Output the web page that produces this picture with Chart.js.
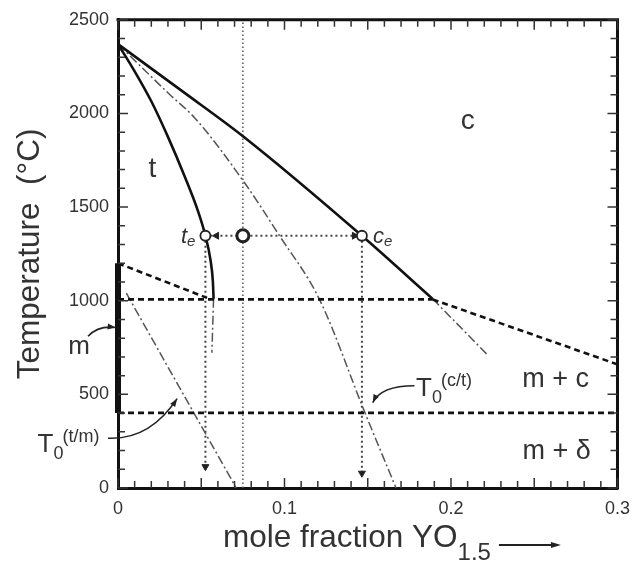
<!DOCTYPE html>
<html>
<head>
<meta charset="utf-8">
<script src="https://cdn.jsdelivr.net/npm/chart.js@4.4.1/dist/chart.umd.min.js"></script>
<style>
  html, body { margin: 0; padding: 0; background: #fff; }
  #wrap { width: 640px; height: 567px; }
</style>
</head>
<body>
<div id="wrap"><canvas id="phase" width="640" height="567"></canvas></div>
<script>
// axis label values
const xLabelValues = [0, 0.1, 0.2, 0.3];
const yLabelValues = [0, 500, 1000, 1500, 2000, 2500];

// t / (t + c) boundary (solid)
const tPhaseX = [0, 0.01, 0.02, 0.03, 0.04, 0.048, 0.0525, 0.0555, 0.057, 0.0574];
const tPhaseT = [2370, 2225, 2065, 1875, 1665, 1480, 1347, 1220, 1100, 1010];
// c / (t + c) boundary (solid)
const cPhaseX = [0, 0.04, 0.076, 0.1465, 0.189];
const cPhaseT = [2370, 2110, 1872, 1347, 1010];
// metastable extensions (dash-dot)
const tMetaX = [0.0574, 0.0564];
const tMetaT = [1010, 722];
const cMetaX = [0.189, 0.2217];
const cMetaT = [1010, 713];
// T0 curves (dash-dot)
const t0ctX = [0, 0.0306, 0.0465, 0.076, 0.097, 0.121, 0.1484, 0.167];
const t0ctT = [2370, 2105, 1972, 1630, 1347, 1007, 400, 0];
const t0tmX = [0.005, 0.071];
const t0tmT = [1040, 0];
// dashed phase lines
const tmBoundX = [0, 0.0535];
const tmBoundT = [1200, 1015];
const eutectoidX = [0, 0.189];
const eutectoidT = [1007, 1007];
const cmBoundX = [0.189, 0.3];
const cmBoundT = [1007, 660];
const lowLineX = [0, 0.3];
const lowLineT = [401, 401];
// m field along the axis
const mFieldX = [0, 0];
const mFieldT = [400, 1200];
// dotted construction lines
const compX = [0.075, 0.075];
const compT = [0, 2500];
const tieX = [0.0525, 0.1465];
const tieT = [1347, 1347];
const teDropX = [0.0525, 0.0525];
const teDropT = [1347, 120];
const ceDropX = [0.1465, 0.1465];
const ceDropT = [1347, 85];
// marked points: te, alloy, ce
const markX = [0.0525, 0.075, 0.1465];
const markT = [1347, 1347, 1347];
// arrow heads on the dotted lines
const headX = [0.0525, 0.1465, 0.0592, 0.142];
const headT = [114, 79, 1347, 1347];
const headRot = [180, 180, 270, 90];

const pts = (xs, ys) => xs.map((x, i) => ({ x: x, y: ys[i] }));

const INK = '#111';
const GREY = '#555';
const TXT = '#333';
const FONT = '"Liberation Sans", Arial, sans-serif';

function line(xs, ys, style) {
    return Object.assign({
        data: pts(xs, ys),
        showLine: true,
        pointRadius: 0,
        borderColor: INK,
        borderWidth: 2.5,
        fill: false
    }, style);
}

const solid = { borderWidth: 2.6, cubicInterpolationMode: 'monotone' };
const dashed = { borderWidth: 2.6, borderDash: [6, 4] };
const dashDot = { borderWidth: 1.5, borderColor: GREY, borderDash: [9, 3, 2, 3], cubicInterpolationMode: 'monotone' };
const dotted = { borderWidth: 2, borderColor: '#444', borderDash: [2, 3] };

function txt(ctx, s, x, y, size, opts) {
    opts = opts || {};
    ctx.save();
    ctx.font = (opts.italic ? 'italic ' : '') + size + 'px ' + FONT;
    ctx.fillStyle = opts.color || TXT;
    ctx.textAlign = opts.align || 'left';
    ctx.textBaseline = opts.baseline || 'alphabetic';
    ctx.translate(x, y);
    if (opts.rot) ctx.rotate(opts.rot);
    ctx.scale(1, opts.sy || 1);
    ctx.fillText(s, 0, 0);
    const w = ctx.measureText(s).width;
    ctx.restore();
    return w;
}

function arrowHead(ctx, x, y, ang, len, wid) {
    ctx.save();
    ctx.translate(x, y);
    ctx.rotate(ang);
    ctx.beginPath();
    ctx.moveTo(0, 0);
    ctx.lineTo(-len, -wid / 2);
    ctx.lineTo(-len, wid / 2);
    ctx.closePath();
    ctx.fill();
    ctx.restore();
}

function curvedArrow(ctx, p0, p1, p2) {
    ctx.beginPath();
    ctx.moveTo(p0[0], p0[1]);
    ctx.quadraticCurveTo(p1[0], p1[1], p2[0], p2[1]);
    ctx.stroke();
    arrowHead(ctx, p2[0], p2[1], Math.atan2(p2[1] - p1[1], p2[0] - p1[0]), 8, 6);
}

const overlay = {
    id: 'overlay',
    afterDatasetsDraw(chart) {
        const ctx = chart.ctx;
        const xs = chart.scales.x, ys = chart.scales.y;
        const a = chart.chartArea;
        const X = v => xs.getPixelForValue(v);
        const Y = v => ys.getPixelForValue(v);

        // frame top and right
        ctx.save();
        ctx.strokeStyle = INK;
        ctx.lineWidth = 3;
        ctx.beginPath();
        ctx.moveTo(a.left - 1.5, a.top);
        ctx.lineTo(a.right, a.top);
        ctx.lineTo(a.right, a.bottom + 1.5);
        ctx.stroke();

        // inward ticks
        ctx.lineWidth = 1.5;
        ctx.strokeStyle = '#333';
        ctx.beginPath();
        for (let i = 0; i <= 30; i++) {
            const px = X(i / 100);
            const L = i % 5 === 0 ? 10 : 7;
            ctx.moveTo(px, a.bottom); ctx.lineTo(px, a.bottom - L);
            ctx.moveTo(px, a.top); ctx.lineTo(px, a.top + L);
        }
        for (let i = 0; i <= 25; i++) {
            const py = Y(i * 100);
            const L = i % 5 === 0 ? 10 : 7;
            ctx.moveTo(a.left, py); ctx.lineTo(a.left + L, py);
            ctx.moveTo(a.right, py); ctx.lineTo(a.right - L, py);
        }
        ctx.stroke();
        ctx.restore();

        // region labels
        txt(ctx, 't', X(0.0206), Y(1703), 28, { align: 'center', baseline: 'middle' });
        txt(ctx, 'c', X(0.21), Y(1957), 28, { align: 'center', baseline: 'middle' });
        txt(ctx, 'm + c', X(0.2628), Y(577), 27, { align: 'center', baseline: 'middle' });
        txt(ctx, 'm + \u03b4', X(0.2634), Y(192), 27, { align: 'center', baseline: 'middle' });
        txt(ctx, 'm', X(-0.0234), Y(752), 26, { align: 'center', baseline: 'middle' });

        // te and ce labels
        ctx.save();
        ctx.font = 'italic 15px ' + FONT;
        const we = ctx.measureText('e').width;
        ctx.font = 'italic 22px ' + FONT;
        const wt = ctx.measureText('t').width;
        ctx.restore();
        const teR = X(0.0525) - 10;
        txt(ctx, 't', teR - we - wt, Y(1347) + 7, 22, { italic: true });
        txt(ctx, 'e', teR - we, Y(1347) + 10, 15, { italic: true });
        const ceL = X(0.1465) + 11;
        const wc = txt(ctx, 'c', ceL, Y(1347) + 7, 22, { italic: true });
        txt(ctx, 'e', ceL + wc, Y(1347) + 10, 15, { italic: true });

        // T0 labels
        function t0(x0, base, sup) {
            const w1 = txt(ctx, 'T', x0, base, 26);
            const w2 = txt(ctx, '0', x0 + w1, base + 7, 18);
            txt(ctx, sup, x0 + w1 + w2 - 1, base - 10, 18);
        }
        t0(X(-0.0483), Y(192), '(t/m)');
        t0(X(0.179), Y(493), '(c/t)');

        // annotation arrows
        ctx.save();
        ctx.strokeStyle = '#222';
        ctx.fillStyle = '#222';
        ctx.lineWidth = 1.6;
        curvedArrow(ctx, [X(-0.018), Y(810)], [X(-0.012), Y(868)], [X(-0.0014), Y(857)]);
        curvedArrow(ctx, [X(-0.006), Y(266)], [X(0.019), Y(255)], [X(0.0355), Y(477)]);
        curvedArrow(ctx, [X(0.178), Y(546)], [X(0.158), Y(546)], [X(0.153), Y(456)]);
        ctx.restore();

        // axis titles
        txt(ctx, 'Temperature  (\u00b0C)', 30, Y(1250), 31.5, { align: 'center', baseline: 'middle', rot: -Math.PI / 2 });
        const tx = 223, tb = 547;
        const w = txt(ctx, 'mole fraction YO', tx, tb, 31.5);
        const ws = txt(ctx, '1.5', tx + w, tb + 13, 24);
        ctx.save();
        ctx.strokeStyle = '#222';
        ctx.fillStyle = '#222';
        ctx.lineWidth = 2;
        const ax0 = tx + w + ws + 8, ax1 = ax0 + 62, ay = tb - 2;
        ctx.beginPath();
        ctx.moveTo(ax0, ay); ctx.lineTo(ax1 - 6, ay);
        ctx.stroke();
        arrowHead(ctx, ax1, ay, 0, 10, 6);
        ctx.restore();
    }
};

new Chart(document.getElementById('phase'), {
    type: 'scatter',
    data: {
        datasets: [
            {
                data: pts(markX, markT),
                showLine: false,
                pointRadius: [5, 6, 5],
                pointBorderWidth: [1.8, 3, 1.8],
                pointBackgroundColor: '#fff',
                pointBorderColor: '#222'
            },
            {
                data: pts(headX, headT),
                showLine: false,
                pointStyle: 'triangle',
                pointRadius: 4,
                pointRotation: headRot,
                pointBackgroundColor: '#222',
                pointBorderColor: '#222',
                pointBorderWidth: 1
            },
            line(tPhaseX, tPhaseT, solid),
            line(cPhaseX, cPhaseT, solid),
            line(mFieldX, mFieldT, { borderWidth: 6, clip: false }),
            line(tmBoundX, tmBoundT, dashed),
            line(eutectoidX, eutectoidT, dashed),
            line(cmBoundX, cmBoundT, dashed),
            line(lowLineX, lowLineT, dashed),
            line(tMetaX, tMetaT, dashDot),
            line(cMetaX, cMetaT, dashDot),
            line(t0ctX, t0ctT, dashDot),
            line(t0tmX, t0tmT, dashDot),
            line(compX, compT, { borderWidth: 1.5, borderColor: '#555', borderDash: [1.5, 2.5] }),
            line(tieX, tieT, dotted),
            line(teDropX, teDropT, dotted),
            line(ceDropX, ceDropT, dotted)
        ]
    },
    options: {
        responsive: false,
        animation: false,
        devicePixelRatio: 1,
        layout: { padding: { top: 15, right: 17, left: 0, bottom: 0 } },
        plugins: { legend: { display: false }, tooltip: { enabled: false } },
        elements: { point: { radius: 0, hitRadius: 0 } },
        scales: {
            x: {
                type: 'linear',
                min: 0,
                max: 0.3,
                afterBuildTicks: s => { s.ticks = xLabelValues.map(v => ({ value: v })); },
                afterFit: s => { s.height = 79; },
                ticks: {
                    color: TXT,
                    font: { family: FONT, size: 18 },
                    padding: 10,
                    maxRotation: 0,
                    callback: v => String(Math.round(v * 10) / 10)
                },
                grid: { display: false, drawTicks: false },
                border: { display: true, color: INK, width: 3 }
            },
            y: {
                type: 'linear',
                min: 0,
                max: 2500,
                afterBuildTicks: s => { s.ticks = yLabelValues.map(v => ({ value: v })); },
                afterFit: s => { s.width = 118; },
                ticks: {
                    color: TXT,
                    font: { family: FONT, size: 18 },
                    padding: 9,
                    callback: v => String(v)
                },
                grid: { display: false, drawTicks: false },
                border: { display: true, color: INK, width: 3 }
            }
        }
    },
    plugins: [overlay]
});
</script>
</body>
</html>
